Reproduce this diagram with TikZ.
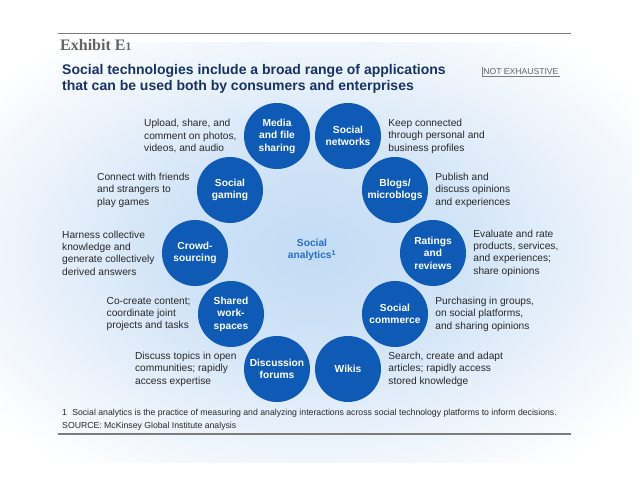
\documentclass[tikz,border=0pt]{standalone}
\usepackage{fontspec}
\setsansfont{Liberation Sans}
\setmainfont{Liberation Serif}
\usepackage{xcolor}
\usetikzlibrary{positioning}

\definecolor{techblue}{RGB}{14,90,180}
\definecolor{titlenavy}{RGB}{24,50,100}
\definecolor{hubblue}{RGB}{40,110,195}
\definecolor{desctext}{RGB}{40,40,40}
\definecolor{headgray}{RGB}{100,100,100}
\definecolor{rulegray}{RGB}{125,125,125}
\definecolor{glowin}{RGB}{194,219,244}
\definecolor{glowmid}{RGB}{210,228,247}
\definecolor{glowout}{RGB}{234,242,251}
\pgfdeclareradialshading{hubglow}{\pgfpoint{0bp}{0bp}}{color(0bp)=(glowin); color(12bp)=(glowmid); color(22bp)=(glowout); color(32bp)=(white); color(50bp)=(white)}

\tikzset{
    tech/.style={circle, fill=techblue, text=white, minimum size=66pt, inner sep=0pt,
        align=center, font=\sffamily\bfseries\fontsize{10.2}{12.4}\selectfont},
    desc/.style={align=left, inner sep=0pt, text=desctext,
        font=\sffamily\fontsize{10.2}{12.4}\selectfont},
    smallprint/.style={anchor=west, inner sep=0pt, text=desctext,
        font=\sffamily\fontsize{8.7}{10}\selectfont},
    headrule/.style={rulegray, line width=1.6pt}
}

\begin{document}
\begin{tikzpicture}[x=1pt, y=-1pt, font=\sffamily]
    \useasboundingbox (0,0) rectangle (638,479);
    % 1. Background glow behind the ring
    \shade[shading=hubglow] (-8,42) rectangle (632,462);
    % 2. Header
    \draw[headrule] (58,33.5) -- (571,33.5);
    \node[anchor=base west, inner sep=0pt, text=headgray,
        font=\rmfamily\bfseries\fontsize{16}{16}\selectfont] (exhibit) at (60,50.5)
        {Exhibit E{\fontsize{11.5}{11.5}\selectfont 1}};
    \node[anchor=west, align=left, inner sep=0pt, text=titlenavy,
        font=\sffamily\bfseries\fontsize{14}{16}\selectfont] (title) at (62,79)
        {Social technologies include a broad range of applications\\
         that can be used both by consumers and enterprises};
    \node[anchor=west, inner sep=1.2pt, text=headgray,
        font=\sffamily\fontsize{8.6}{10}\selectfont] (notex) at (482,71.5) {NOT EXHAUSTIVE};
    \draw[rulegray, thin] (notex.north west) |- (notex.south east);
    % 3. Ring of technologies
    \node[tech] (media)    at (277,136) {Media\\and file\\sharing};
    \node[tech] (networks) at (348,136) {Social\\networks};
    \node[tech] (gaming)   at (230,190) {Social\\gaming};
    \node[tech] (blogs)    at (395,190) {Blogs/\\microblogs};
    \node[tech] (crowd)    at (195,253) {Crowd-\\sourcing};
    \node[tech] (ratings)  at (433,253) {Ratings\\and\\reviews};
    \node[tech] (shared)   at (231,314) {Shared\\work-\\spaces};
    \node[tech] (commerce) at (395,314) {Social\\commerce};
    \node[tech] (forums)   at (277,369) {Discussion\\forums};
    \node[tech] (wikis)    at (348,369) {Wikis};
    \node[align=center, text=hubblue, font=\sffamily\bfseries\fontsize{10.2}{12}\selectfont]
        (analytics) at (312,250) {Social\\analytics\textsuperscript{1}};
    % 4. Descriptions
    \node[desc, left=7pt of media]     {Upload, share, and\\comment on photos,\\videos, and audio};
    \node[desc, left=7pt of gaming]    {Connect with friends\\and strangers to\\play games};
    \node[desc, left=7pt of crowd]     {Harness collective\\knowledge and\\generate collectively\\derived answers};
    \node[desc, left=7pt of shared]    {Co-create content;\\coordinate joint\\projects and tasks};
    \node[desc, left=7pt of forums]    {Discuss topics in open\\communities; rapidly\\access expertise};
    \node[desc, right=7pt of networks] {Keep connected\\through personal and\\business profiles};
    \node[desc, right=7pt of blogs]    {Publish and\\discuss opinions\\and experiences};
    \node[desc, right=7pt of ratings]  {Evaluate and rate\\products, services,\\and experiences;\\share opinions};
    \node[desc, right=7pt of commerce] {Purchasing in groups,\\on social platforms,\\and sharing opinions};
    \node[desc, right=7pt of wikis]    {Search, create and adapt\\articles; rapidly access\\stored knowledge};
    % 5. Footnote and source
    \node[smallprint] (note) at (62,413) {1\hspace{0.6em}Social analytics is the practice of measuring and analyzing interactions across social technology platforms to inform decisions.};
    \node[smallprint] (source) at (62,426.5) {SOURCE: McKinsey Global Institute analysis};
    \draw[headrule] (58,434) -- (571,434);
\end{tikzpicture}
\end{document}
